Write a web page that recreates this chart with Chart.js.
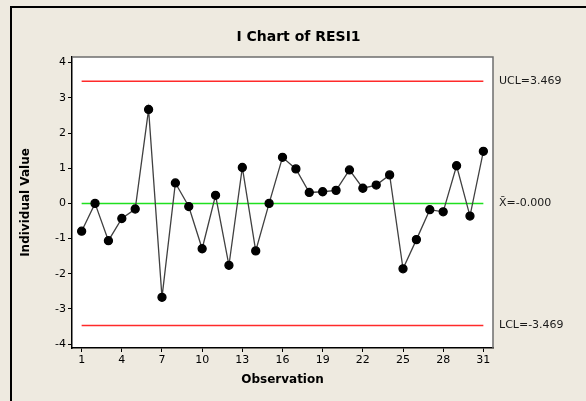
<!DOCTYPE html>
<html>
<head>
<meta charset="utf-8">
<script src="https://cdn.jsdelivr.net/npm/chart.js@4.4.1/dist/chart.umd.min.js"></script>
<style>
    html, body { margin: 0; padding: 0; background: #eeeae0; }
    #contenedor { width: 586px; height: 401px; }
</style>
</head>
<body>
<div id="contenedor"><canvas id="chart" width="586" height="401"></canvas></div>
<script>
// Datos del grafico I de RESI1
const observaciones = [1, 2, 3, 4, 5, 6, 7, 8, 9, 10, 11, 12, 13, 14, 15, 16,
    17, 18, 19, 20, 21, 22, 23, 24, 25, 26, 27, 28, 29, 30, 31];
const residuos = [-0.79, 0.00, -1.06, -0.43, -0.16, 2.67, -2.67, 0.58, -0.09, -1.29,
    0.23, -1.76, 1.02, -1.35, 0.00, 1.31, 0.98, 0.31, 0.33, 0.37,
    0.95, 0.43, 0.52, 0.81, -1.86, -1.03, -0.18, -0.24, 1.07, -0.36, 1.48];
const marcasX = [1, 4, 7, 10, 13, 16, 19, 22, 25, 28, 31];
const marcasY = [-4, -3, -2, -1, 0, 1, 2, 3, 4];
const limiteSuperior = 3.469;
const lineaCentral = 0;
const limiteInferior = -3.469;
const etiquetasLimites = ['UCL=3.469', 'X\u0304=-0.000', 'LCL=-3.469'];

const FUENTE = '"DejaVu Sans", Verdana, sans-serif';

function lineaHorizontal(valor) {
    return [
        { x: observaciones[0], y: valor },
        { x: observaciones[observaciones.length - 1], y: valor }
    ];
}

const puntos = observaciones.map((obs, i) => ({ x: obs, y: residuos[i] }));

const fondoYMarco = {
    id: 'fondoYMarco',
    beforeDraw(chart) {
        const ctx = chart.ctx;
        const area = chart.chartArea;
        ctx.save();
        ctx.fillStyle = '#eeeae0';
        ctx.fillRect(0, 0, chart.width, chart.height);
        ctx.strokeStyle = '#000';
        ctx.lineWidth = 2;
        ctx.beginPath();
        ctx.moveTo(11, chart.height);
        ctx.lineTo(11, 7);
        ctx.lineTo(chart.width, 7);
        ctx.stroke();
        ctx.fillStyle = '#ffffff';
        ctx.fillRect(area.left, area.top, area.right - area.left, area.bottom - area.top);
        ctx.restore();
    },
    afterDraw(chart) {
        const ctx = chart.ctx;
        const area = chart.chartArea;
        const y = chart.scales.y;
        ctx.save();
        ctx.strokeStyle = '#6e6e6e';
        ctx.lineWidth = 1.5;
        ctx.beginPath();
        ctx.moveTo(area.left, area.top);
        ctx.lineTo(area.right, area.top);
        ctx.lineTo(area.right, area.bottom);
        ctx.stroke();

        // titulo
        ctx.fillStyle = '#000';
        ctx.font = 'bold 14px ' + FUENTE;
        ctx.textAlign = 'center';
        ctx.textBaseline = 'middle';
        ctx.fillText('I Chart of RESI1', (11 + chart.width) / 2, 37);

        // etiquetas de los limites
        ctx.font = '11px ' + FUENTE;
        ctx.textAlign = 'left';
        ctx.fillStyle = '#1a1a1a';
        const valores = [limiteSuperior, lineaCentral, limiteInferior];
        valores.forEach((v, i) => {
            ctx.fillText(etiquetasLimites[i], area.right + 6, y.getPixelForValue(v));
        });
        ctx.restore();
    }
};

const ctx = document.getElementById('chart').getContext('2d');
const chart = new Chart(ctx, {
    type: 'line',
    data: {
        datasets: [
            {
                label: 'RESI1',
                data: puntos,
                borderColor: '#404040',
                borderWidth: 1.3,
                pointBackgroundColor: '#000',
                pointBorderColor: '#000',
                pointRadius: 4,
                tension: 0
            },
            {
                label: 'UCL',
                data: lineaHorizontal(limiteSuperior),
                borderColor: '#ff2a2a',
                borderWidth: 1.5,
                pointRadius: 0
            },
            {
                label: 'Media',
                data: lineaHorizontal(lineaCentral),
                borderColor: '#1fe01f',
                borderWidth: 1.5,
                pointRadius: 0
            },
            {
                label: 'LCL',
                data: lineaHorizontal(limiteInferior),
                borderColor: '#ff2a2a',
                borderWidth: 1.5,
                pointRadius: 0
            }
        ]
    },
    options: {
        responsive: false,
        animation: false,
        layout: { padding: { top: 57, right: 93, left: 0, bottom: 0 } },
        plugins: {
            legend: { display: false },
            tooltip: { enabled: false },
            title: { display: false }
        },
        scales: {
            x: {
                type: 'linear',
                min: 0.28,
                max: 31.72,
                afterFit(scale) { scale.height = 53; },
                afterBuildTicks(scale) { scale.ticks = marcasX.map(v => ({ value: v })); },
                grid: { drawOnChartArea: false, drawTicks: true, tickLength: 4, color: '#000' },
                border: { color: '#000', width: 1.5 },
                ticks: { color: '#000', padding: 2, font: { family: FUENTE, size: 11 }, maxRotation: 0 },
                title: {
                    display: true,
                    text: 'Observation',
                    color: '#000',
                    font: { family: FUENTE, size: 12, weight: 'bold' },
                    padding: { top: 0, bottom: 14 }
                }
            },
            y: {
                min: -4.11,
                max: 4.16,
                afterFit(scale) { scale.width = 72; },
                afterBuildTicks(scale) { scale.ticks = marcasY.map(v => ({ value: v })); },
                grid: { drawOnChartArea: false, drawTicks: true, tickLength: 4, color: '#000' },
                border: { color: '#000', width: 1.5 },
                ticks: { color: '#000', padding: 2, font: { family: FUENTE, size: 11 } },
                title: {
                    display: true,
                    text: 'Individual Value',
                    color: '#000',
                    font: { family: FUENTE, size: 12, weight: 'bold' },
                    padding: { top: 19, bottom: 0 }
                }
            }
        }
    },
    plugins: [fondoYMarco]
});
</script>
</body>
</html>
